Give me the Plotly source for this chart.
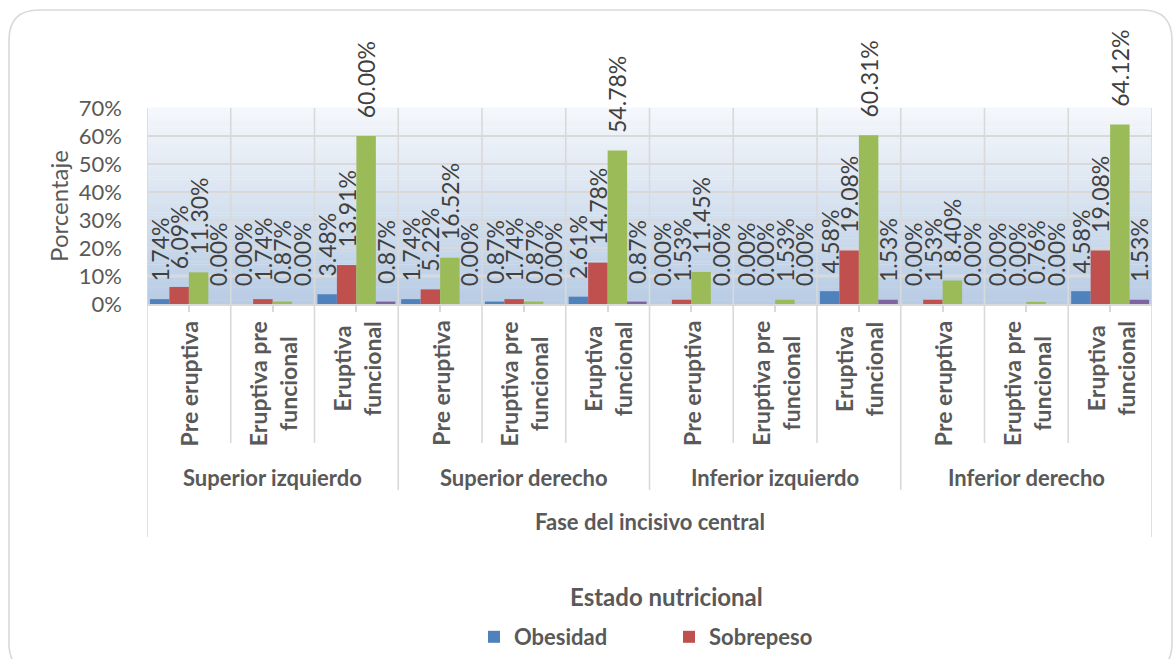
import plotly.graph_objects as go

# ---- data -------------------------------------------------------------
groups = ["Superior izquierdo", "Superior derecho", "Inferior izquierdo", "Inferior derecho"]
phases = ["Pre eruptiva", "Eruptiva pre funcional", "Eruptiva funcional"]
phase_labels = ["Pre eruptiva", "Eruptiva pre<br>funcional", "Eruptiva<br>funcional"]

obesidad = [1.74, 0.00, 3.48, 1.74, 0.87, 2.61, 0.00, 0.00, 4.58, 0.00, 0.00, 4.58]
sobrepeso = [6.09, 1.74, 13.91, 5.22, 1.74, 14.78, 1.53, 0.00, 19.08, 1.53, 0.00, 19.08]
normal = [11.30, 0.87, 60.00, 16.52, 0.87, 54.78, 11.45, 1.53, 60.31, 8.40, 0.76, 64.12]
bajo_peso = [0.00, 0.00, 0.87, 0.00, 0.00, 0.87, 0.00, 0.00, 1.53, 0.00, 0.00, 1.53]

y_ticks = [0, 10, 20, 30, 40, 50, 60, 70]
y_ticktext = [f"{v}%" for v in y_ticks]

# ---- layout geometry (pixels) ----------------------------------------
W, H = 1175, 659
L, R, T, B = 147, 1152, 108, 304
FONT = "Lato"
GREY = "#595959"
LINE = "#d9d9d9"


def px_x(px):
    return (px - L) / (R - L)


def px_y(py):
    return (B - py) / (B - T)


keys = [f"{g} | {p}" for g in groups for p in phases]

series = [
    ("Obesidad", obesidad, "#4f81bd", True),
    ("Sobrepeso", sobrepeso, "#c0504d", True),
    ("Normal", normal, "#9bbb59", False),
    ("Bajo peso", bajo_peso, "#8064a2", False),
]

fig = go.Figure()
pad = "\u00a0\u00a0\u2009"  # keeps the rotated value label clear of the bar top
for name, vals, color, show in series:
    fig.add_trace(go.Bar(
        x=keys, y=vals, name=name, marker=dict(color=color, line=dict(width=0)),
        texttemplate=pad + "%{y:.2f}%", textposition="outside", textangle=-90,
        textfont=dict(family=FONT, size=23, color="#404040"),
        constraintext="none", cliponaxis=False, showlegend=show,
    ))

shapes = []
# plot area gradient
n = 60
top_c = (0xf4, 0xf7, 0xfb)
bot_c = (0xb8, 0xcc, 0xe4)
for i in range(n):
    t = i / (n - 1)
    c = tuple(round(bot_c[k] + (top_c[k] - bot_c[k]) * t) for k in range(3))
    shapes.append(dict(type="rect", xref="x domain", yref="y domain",
                       x0=0, x1=1, y0=i / n, y1=(i + 1) / n + 0.002,
                       fillcolor="rgb(%d,%d,%d)" % c, line=dict(width=0), layer="below"))

# category / group separators
ncat = len(keys)
for i in range(ncat + 1):
    if i in (0, ncat):
        bottom = 537
    elif i % len(phases) == 0:
        bottom = 490
    else:
        bottom = 443
    shapes.append(dict(type="line", xref="x", yref="y domain",
                       x0=i - 0.5, x1=i - 0.5, y0=1, y1=px_y(bottom),
                       line=dict(color=LINE, width=1.6), layer="below"))

# rounded chart border
x0, x1, y0, y1, r = 9, 1172, 10, 673, 30
pts = [("M", x0 + r, y0), ("L", x1 - r, y0), ("Q", x1, y0, x1, y0 + r),
       ("L", x1, y1 - r), ("Q", x1, y1, x1 - r, y1), ("L", x0 + r, y1),
       ("Q", x0, y1, x0, y1 - r), ("L", x0, y0 + r), ("Q", x0, y0, x0 + r, y0)]
path = ""
for p in pts:
    cmd = p[0]
    coords = p[1:]
    seg = " ".join(f"{px_x(coords[j]):.5f},{px_y(coords[j + 1]):.5f}" for j in range(0, len(coords), 2))
    path += f"{cmd}{seg} "
shapes.append(dict(type="path", xref="paper", yref="paper", path=path + "Z",
                   line=dict(color=LINE, width=1.6), fillcolor="rgba(0,0,0,0)", layer="below"))

annotations = []
for gi, g in enumerate(groups):
    for pi, lab in enumerate(phase_labels):
        annotations.append(dict(
            x=keys[gi * len(phases) + pi], xref="x", y=0, yref="paper",
            yanchor="top", xanchor="center", yshift=-15, textangle=-90,
            text=lab, align="center", showarrow=False,
            font=dict(family=FONT, size=23, color=GREY, weight="bold")))
    annotations.append(dict(
        x=keys[gi * len(phases) + 1], xref="x", y=px_y(477), yref="paper",
        yanchor="middle", xanchor="center", text=g, showarrow=False,
        font=dict(family=FONT, size=22, color=GREY, weight="bold")))
annotations.append(dict(
    x=0.5, xref="paper", y=px_y(521), yref="paper", yanchor="middle",
    text="Fase del incisivo central", showarrow=False,
    font=dict(family=FONT, size=22, color=GREY, weight="bold")))
# legend heading
annotations.append(dict(
    x=px_x(666), xref="paper", y=px_y(596), yref="paper", yanchor="middle",
    xanchor="center", text="Estado nutricional", showarrow=False,
    font=dict(family=FONT, size=24, color=GREY, weight="bold")))

fig.update_layout(
    width=W, height=H,
    margin=dict(l=L, r=W - R, t=T, b=H - B, autoexpand=False),
    paper_bgcolor="white", plot_bgcolor="white",
    barmode="group", bargap=0.07, bargroupgap=0,
    font=dict(family=FONT, color=GREY),
    shapes=shapes, annotations=annotations,
    xaxis=dict(type="category", range=[-0.5, ncat - 0.5], showticklabels=False,
               ticks="outside", ticklen=6, tickcolor=LINE, tickwidth=1.6,
               showgrid=False, showline=True, linecolor=LINE, linewidth=1.6,
               zeroline=False),
    yaxis=dict(range=[0, 70], tickmode="array", tickvals=y_ticks, ticktext=y_ticktext,
               tickfont=dict(family=FONT, size=22, color=GREY),
               showgrid=True, gridcolor=LINE, gridwidth=1.6, zeroline=False,
               ticks="", ticklabelstandoff=24,
               title=dict(text="Porcentaje", standoff=3,
                          font=dict(family=FONT, size=24, color=GREY))),
    legend=dict(orientation="h", x=px_x(474), xanchor="left",
                y=px_y(637), yanchor="middle",
                entrywidth=150, entrywidthmode="pixels",
                font=dict(family=FONT, size=22, color=GREY, weight="bold"),
                bgcolor="rgba(0,0,0,0)"),
)

fig.write_html("out.html")
